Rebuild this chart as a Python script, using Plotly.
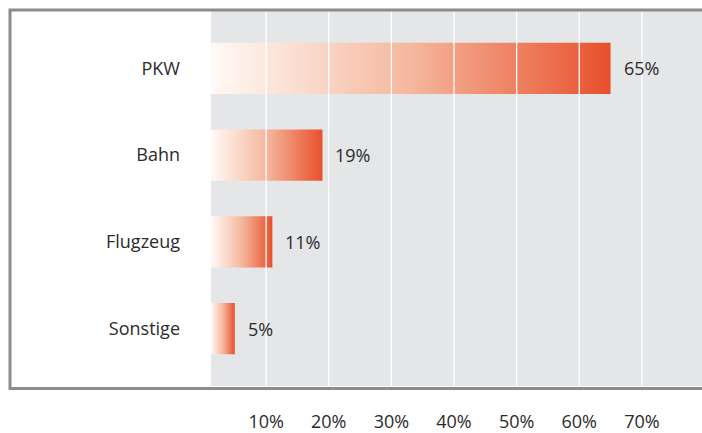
import plotly.graph_objects as go

# data
categories = ["PKW", "Bahn", "Flugzeug", "Sonstige"]
shares = [65, 19, 11, 5]
tick_values = [10, 20, 30, 40, 50, 60, 70]
tick_labels = ["10%", "20%", "30%", "40%", "50%", "60%", "70%"]

# look
bar_scale = [[0, "#FFFAF6"], [0.5, "#F5B79D"], [1, "#E8502B"]]
bg_gray = "#E5E6E8"
frame_gray = "#8C8C8E"
text_color = "#2B2B2B"
font_family = "Open Sans, Noto Sans, sans-serif"

W, H = 702, 433
M_L, M_R, M_T, M_B = 211, 0, 11, 40
x_range = [1.2, 79.6]
y_range = [-0.66, len(categories) - 1 + 0.66]
half_bar = 0.295


def px_to_paper(px, py):
    # pixel position on the page -> paper coordinates of the plot area
    pw = W - M_L - M_R
    ph = H - M_T - M_B
    return (px - M_L) / pw, (H - M_B - py) / ph


fig = go.Figure()

positions = list(range(len(categories)))[::-1]  # first category on top
for cat, val, pos in zip(categories, shares, positions):
    fig.add_trace(go.Scatter(
        x=[0, val, val, 0, 0],
        y=[pos - half_bar, pos - half_bar, pos + half_bar, pos + half_bar, pos - half_bar],
        mode="lines",
        line=dict(width=0),
        fill="toself",
        fillgradient=dict(type="horizontal", colorscale=bar_scale,
                          start=x_range[0], stop=val),
        hoverinfo="skip",
        showlegend=False,
        name=cat,
    ))
    fig.add_annotation(x=val, y=pos, text=f"{val}%", showarrow=False,
                       xanchor="left", xshift=11,
                       font=dict(size=18, color=text_color, family=font_family))

# white gridlines sit on top of the bars
for v in tick_values:
    fig.add_shape(type="line", xref="x", yref="paper", x0=v, x1=v, y0=0, y1=1,
                  line=dict(color="white", width=1.3), layer="above")

# grey frame round the whole chart (right edge is cut off)
fx0, fy0 = px_to_paper(10, 395.5)
fx1, fy1 = px_to_paper(W + 20, 10)
fig.add_shape(type="rect", xref="paper", yref="paper", x0=fx0, x1=fx1, y0=fy0, y1=fy1,
              line=dict(color=frame_gray, width=3), layer="above")

fig.update_xaxes(range=x_range, tickvals=tick_values, ticktext=tick_labels,
                 showgrid=False, zeroline=False, showline=False, ticks="",
                 ticklabelstandoff=23, fixedrange=True)
fig.update_yaxes(range=y_range, tickvals=positions, ticktext=categories,
                 showgrid=False, zeroline=False, showline=False, ticks="",
                 ticklabelstandoff=30, fixedrange=True)

fig.update_layout(
    width=W, height=H,
    margin=dict(l=M_L, r=M_R, t=M_T, b=M_B),
    plot_bgcolor=bg_gray,
    paper_bgcolor="white",
    font=dict(family=font_family, size=18, color=text_color),
    showlegend=False,
)

# the browser's default body margin would shift the figure
fig.write_html("out.html", config={"displayModeBar": False},
               post_script="document.body.style.margin='0';")
